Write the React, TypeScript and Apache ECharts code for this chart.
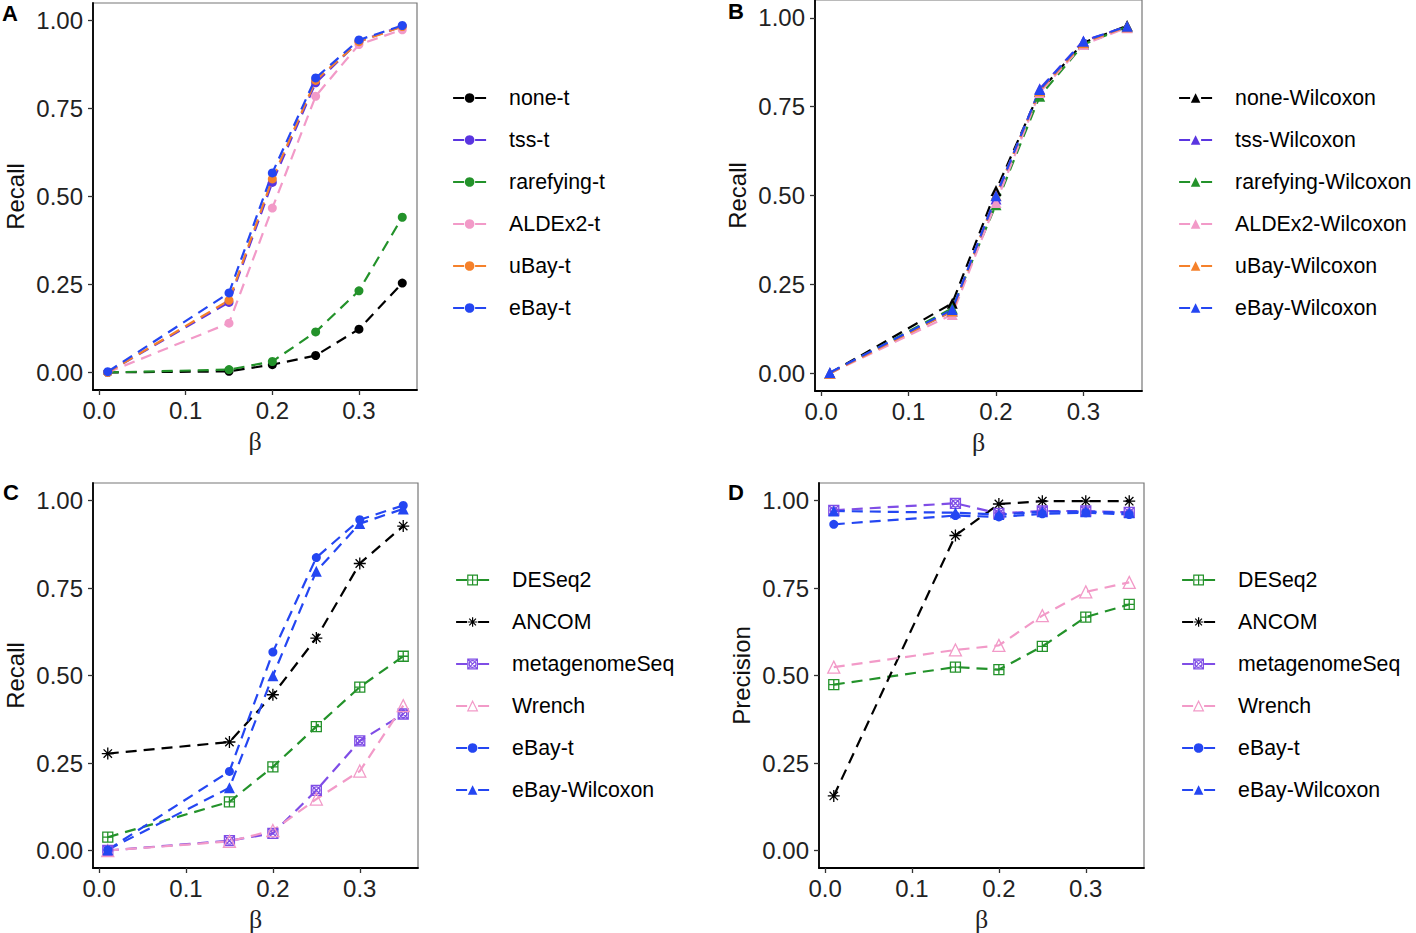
import React, { useEffect, useRef } from "react";
import * as echarts from "echarts";

// ---------- data ----------
const betaValues = [0.01, 0.15, 0.2, 0.25, 0.3, 0.35];
const xTicks = [0, 0.1, 0.2, 0.3];
const yTicks = [0, 0.25, 0.5, 0.75, 1];

// Panel A : recall, t-test variants
const noneT = [0, 0.003, 0.022, 0.048, 0.123, 0.254];
const tssT = [0, 0.199, 0.54, 0.823, 0.941, 0.984];
const rarefyingT = [0, 0.008, 0.031, 0.115, 0.232, 0.441];
const aldex2T = [0, 0.14, 0.467, 0.785, 0.932, 0.974];
const uBayT = [0, 0.205, 0.55, 0.83, 0.94, 0.983];
const eBayT = [0.002, 0.226, 0.567, 0.837, 0.945, 0.986];

// Panel B : recall, Wilcoxon variants
const noneW = [0, 0.197, 0.514, 0.793, 0.93, 0.978];
const tssW = [0, 0.175, 0.49, 0.8, 0.935, 0.975];
const rarefyingW = [0, 0.183, 0.474, 0.779, 0.925, 0.975];
const aldex2W = [0, 0.165, 0.48, 0.79, 0.925, 0.972];
const uBayW = [0, 0.175, 0.5, 0.795, 0.93, 0.975];
const eBayW = [0.002, 0.179, 0.499, 0.798, 0.934, 0.976];

// Panel C : recall, other methods
const deseq2Recall = [0.038, 0.139, 0.239, 0.354, 0.467, 0.555];
const ancomRecall = [0.277, 0.31, 0.445, 0.607, 0.82, 0.927];
const metagenomeSeqRecall = [0, 0.028, 0.049, 0.172, 0.313, 0.39];
const wrenchRecall = [0, 0.026, 0.057, 0.147, 0.227, 0.414];

// Panel D : precision
const deseq2Precision = [0.474, 0.524, 0.517, 0.583, 0.667, 0.703];
const ancomPrecision = [0.156, 0.9, 0.99, 0.998, 0.998, 0.998];
const metagenomeSeqPrecision = [0.972, 0.992, 0.963, 0.97, 0.97, 0.966];
const wrenchPrecision = [0.524, 0.573, 0.586, 0.671, 0.739, 0.766];
const eBayTPrecision = [0.932, 0.957, 0.953, 0.962, 0.965, 0.96];
const eBayWPrecision = [0.97, 0.965, 0.96, 0.968, 0.968, 0.965];

const legendA = ["none-t", "tss-t", "rarefying-t", "ALDEx2-t", "uBay-t", "eBay-t"];
const legendB = [
  "none-Wilcoxon",
  "tss-Wilcoxon",
  "rarefying-Wilcoxon",
  "ALDEx2-Wilcoxon",
  "uBay-Wilcoxon",
  "eBay-Wilcoxon",
];
const legendCD = ["DESeq2", "ANCOM", "metagenomeSeq", "Wrench", "eBay-t", "eBay-Wilcoxon"];

// ---------- styles ----------
const C_BLACK = "#000000";
const C_TSS = "#5A35E0";
const C_GREEN = "#23922A";
const C_PINK = "#F29AC8";
const C_ORANGE = "#F5812B";
const C_BLUE = "#2446F2";
const C_PURPLE = "#7F4DE6";

const SYM_BOXPLUS = "path://M0,0L10,0L10,10L0,10Z M5,0L5,10 M0,5L10,5";
const SYM_ASTERISK = "path://M5,0L5,10 M0,5L10,5 M1.5,1.5L8.5,8.5 M8.5,1.5L1.5,8.5";
const SYM_BOXX =
  "path://M0,0L10,0L10,10L0,10Z M0,0L10,10 M10,0L0,10 M8.5,5A3.5,3.5 0 1 1 1.5,5A3.5,3.5 0 1 1 8.5,5";
const SYM_OPENTRI = "path://M5,0L10,9L0,9Z";

const FONT = "'Liberation Sans', Arial, Helvetica, sans-serif";
const DASH = [11, 7];

type Sty = { color: string; symbol: string; size: number; open?: boolean };

function mkSeries(name: string, values: number[], idx: number, s: Sty) {
  return {
    type: "line",
    name,
    xAxisIndex: idx,
    yAxisIndex: idx,
    data: betaValues.map((b, i) => [b, values[i]]),
    symbol: s.symbol,
    symbolSize: s.size,
    showSymbol: true,
    showAllSymbol: true,
    lineStyle: { color: s.color, width: 2.2, type: DASH },
    itemStyle: s.open
      ? { color: "rgba(255,255,255,0)", borderColor: s.color, borderWidth: 1.3 }
      : { color: s.color, borderWidth: 0 },
    emphasis: { disabled: true },
  };
}

const grids = [
  { left: 93, top: 3, width: 324, height: 387 },
  { left: 815, top: 0, width: 327, height: 391 },
  { left: 93, top: 483, width: 325, height: 387 },
  { left: 819, top: 483, width: 325, height: 387 },
];

function App() {
  const ref = useRef<HTMLDivElement>(null);
  useEffect(() => {
    if (!ref.current) return;
    const chart = echarts.init(ref.current, undefined, { renderer: "svg" });

    const xAxes = grids.map((_, i) => ({
      type: "value",
      gridIndex: i,
      min: -0.007,
      max: 0.367,
      axisLine: { show: true, onZero: false, lineStyle: { color: "#000", width: 1.8 } },
      axisTick: { show: true, length: 5, customValues: xTicks, lineStyle: { color: "#333", width: 1.3 } },
      axisLabel: {
        customValues: xTicks,
        formatter: (v: number) => v.toFixed(1),
        fontSize: 24,
        color: "#222",
        margin: 8,
        fontFamily: FONT,
      },
      splitLine: { show: false },
      name: "β",
      nameLocation: "middle",
      nameGap: 38,
      nameTextStyle: { fontSize: 26, color: "#222", fontFamily: "'Liberation Serif', 'DejaVu Serif', serif" },
    }));

    const yAxes = grids.map((_, i) => ({
      type: "value",
      gridIndex: i,
      min: -0.05,
      max: 1.05,
      axisLine: { show: true, onZero: false, lineStyle: { color: "#000", width: 1.8 } },
      axisTick: { show: true, length: 5, customValues: yTicks, lineStyle: { color: "#333", width: 1.3 } },
      axisLabel: {
        customValues: yTicks,
        formatter: (v: number) => v.toFixed(2),
        fontSize: 24,
        color: "#222",
        margin: 10,
        fontFamily: FONT,
      },
      splitLine: { show: false },
      name: i === 3 ? "Precision" : "Recall",
      nameLocation: "middle",
      nameGap: 66,
      nameTextStyle: { fontSize: 24, color: "#111", fontFamily: FONT },
    }));

    const series = [
      // A
      mkSeries("none-t", noneT, 0, { color: C_BLACK, symbol: "circle", size: 9 }),
      mkSeries("tss-t", tssT, 0, { color: C_TSS, symbol: "circle", size: 9 }),
      mkSeries("rarefying-t", rarefyingT, 0, { color: C_GREEN, symbol: "circle", size: 9 }),
      mkSeries("ALDEx2-t", aldex2T, 0, { color: C_PINK, symbol: "circle", size: 9 }),
      mkSeries("uBay-t", uBayT, 0, { color: C_ORANGE, symbol: "circle", size: 9 }),
      mkSeries("eBay-t", eBayT, 0, { color: C_BLUE, symbol: "circle", size: 9 }),
      // B
      mkSeries("none-Wilcoxon", noneW, 1, { color: C_BLACK, symbol: "triangle", size: 11 }),
      mkSeries("tss-Wilcoxon", tssW, 1, { color: C_TSS, symbol: "triangle", size: 11 }),
      mkSeries("rarefying-Wilcoxon", rarefyingW, 1, { color: C_GREEN, symbol: "triangle", size: 11 }),
      mkSeries("ALDEx2-Wilcoxon", aldex2W, 1, { color: C_PINK, symbol: "triangle", size: 11 }),
      mkSeries("uBay-Wilcoxon", uBayW, 1, { color: C_ORANGE, symbol: "triangle", size: 11 }),
      mkSeries("eBay-Wilcoxon", eBayW, 1, { color: C_BLUE, symbol: "triangle", size: 11 }),
      // C
      mkSeries("DESeq2", deseq2Recall, 2, { color: C_GREEN, symbol: SYM_BOXPLUS, size: 10, open: true }),
      mkSeries("ANCOM", ancomRecall, 2, { color: C_BLACK, symbol: SYM_ASTERISK, size: 12, open: true }),
      mkSeries("metagenomeSeq", metagenomeSeqRecall, 2, { color: C_PURPLE, symbol: SYM_BOXX, size: 10, open: true }),
      mkSeries("Wrench", wrenchRecall, 2, { color: C_PINK, symbol: SYM_OPENTRI, size: 12, open: true }),
      mkSeries("eBay-t", eBayT, 2, { color: C_BLUE, symbol: "circle", size: 9 }),
      mkSeries("eBay-Wilcoxon", eBayW, 2, { color: C_BLUE, symbol: "triangle", size: 11 }),
      // D
      mkSeries("DESeq2", deseq2Precision, 3, { color: C_GREEN, symbol: SYM_BOXPLUS, size: 10, open: true }),
      mkSeries("ANCOM", ancomPrecision, 3, { color: C_BLACK, symbol: SYM_ASTERISK, size: 12, open: true }),
      mkSeries("metagenomeSeq", metagenomeSeqPrecision, 3, { color: C_PURPLE, symbol: SYM_BOXX, size: 10, open: true }),
      mkSeries("Wrench", wrenchPrecision, 3, { color: C_PINK, symbol: SYM_OPENTRI, size: 12, open: true }),
      mkSeries("eBay-t", eBayTPrecision, 3, { color: C_BLUE, symbol: "circle", size: 9 }),
      mkSeries("eBay-Wilcoxon", eBayWPrecision, 3, { color: C_BLUE, symbol: "triangle", size: 11 }),
    ];

    const mkLegend = (data: string[], left: number, top: number) => ({
      orient: "vertical",
      left,
      top,
      padding: 0,
      itemWidth: 33,
      itemHeight: 12,
      itemGap: 20,
      selectedMode: false,
      data,
      lineStyle: { type: [11, 11], width: 2.2 },
      itemStyle: { borderWidth: 1.2 },
      textStyle: { fontSize: 21.3, color: "#000", fontFamily: FONT, padding: [0, 0, 0, 18], lineHeight: 22 },
    });

    const panelLabel = (text: string, left: number, top: number) => ({
      type: "text",
      left,
      top,
      style: { text, fontSize: 22, fontWeight: "bold", fill: "#000", fontFamily: FONT },
    });

    chart.setOption({
      animation: false,
      backgroundColor: "#fff",
      grid: grids.map((g) => ({ ...g, show: true, borderColor: "#777", borderWidth: 1.2, containLabel: false })),
      xAxis: xAxes,
      yAxis: yAxes,
      series,
      legend: [
        mkLegend(legendA, 452, 87),
        mkLegend(legendB, 1178, 87),
        mkLegend(legendCD, 455, 569),
        mkLegend(legendCD, 1181, 569),
      ],
      graphic: [
        panelLabel("A", 2, 2),
        panelLabel("B", 728, 0),
        panelLabel("C", 3, 481),
        panelLabel("D", 728, 481),
      ],
    });

    return () => chart.dispose();
  }, []);

  return (
    <div
      ref={ref}
      style={{ position: "fixed", left: 0, top: 0, width: 1416, height: 933, background: "#fff" }}
    />
  );
}

export default App;
